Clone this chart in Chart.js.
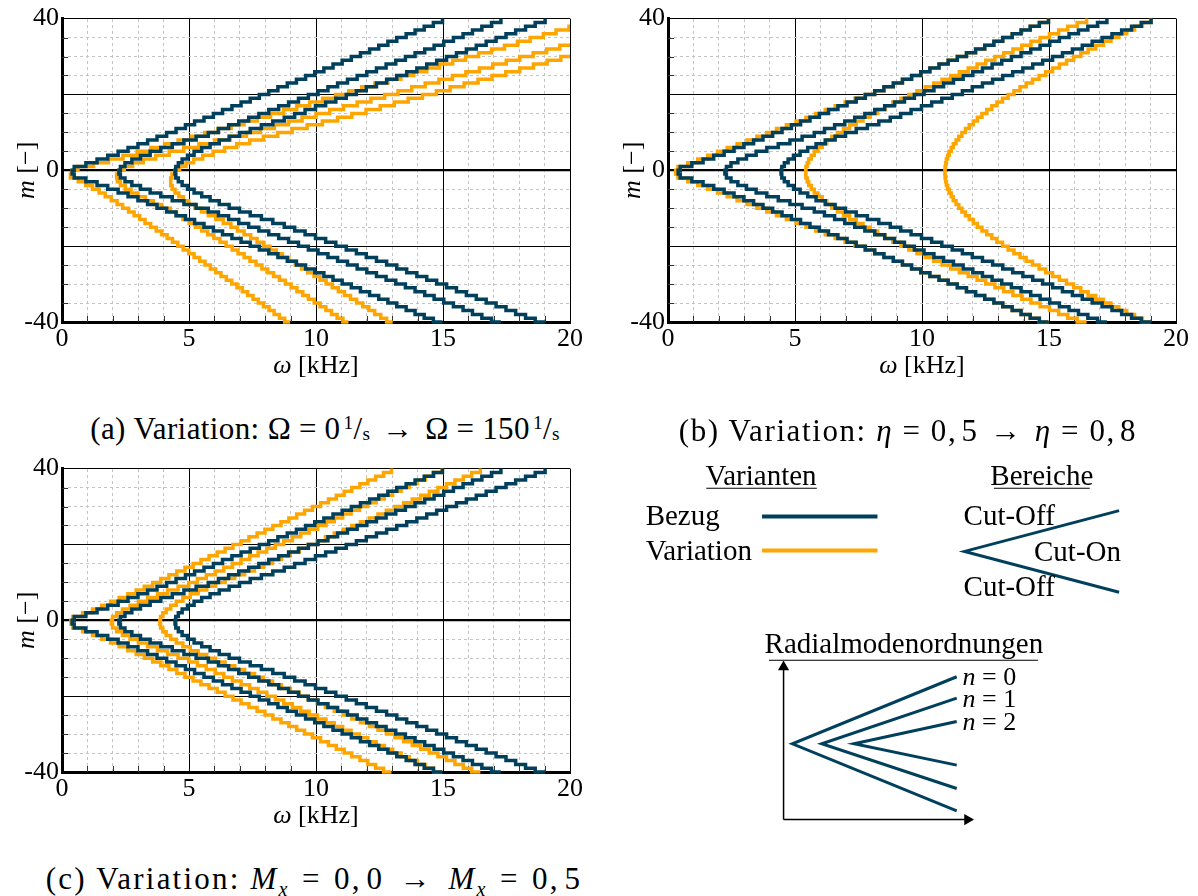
<!DOCTYPE html>
<html>
<head>
<meta charset="utf-8">
<script src="https://cdn.jsdelivr.net/npm/chart.js@4.4.1/dist/chart.umd.min.js"></script>
<style>
  body { margin: 0; background: #fff; }
  #page { position: relative; width: 1198px; height: 896px; overflow: hidden;
          font-family: 'Liberation Serif', 'DejaVu Serif', serif; color: #000; }
  canvas { position: absolute; }
  .cap { position: absolute; font-size: 31px; line-height: 30px; white-space: nowrap;
         letter-spacing: 1.6px; transform: translateX(-50%); }
  .cap .op { margin: 0 0.3em; }
  .cap .ar { margin: 0 0.38em; }
  .cap sup, .cap sub { line-height: 0; }
  #capA { letter-spacing: 0.4px; }
  #capA .op { margin: 0 0.25em; }
  #capC { letter-spacing: 2.2px; }
  #capC .op { margin: 0 0.4em; }
  #capC .ar { margin: 0 0.5em; }
  .nf sup { font-size: 62%; vertical-align: 0.5em; }
  .nf sub { font-size: 62%; vertical-align: -0.05em; }
</style>
</head>
<body>
<div id="page">
  <canvas id="chartA" width="600" height="400" style="left:0;top:0"></canvas>
  <canvas id="chartB" width="598" height="400" style="left:600px;top:0"></canvas>
  <canvas id="chartC" width="600" height="400" style="left:0;top:450px"></canvas>
  <canvas id="legendPanel" width="598" height="456" style="left:600px;top:440px"></canvas>

  <div class="cap" id="capA" style="left:325px;top:414px">(a) Variation: Ω<span class="op">=</span>0<span class="nf">&#8202;<sup>1</sup>/<sub>s</sub></span><span class="ar">→</span>Ω<span class="op">=</span>150<span class="nf">&#8202;<sup>1</sup>/<sub>s</sub></span></div>
  <div class="cap" id="capB" style="left:908px;top:416px">(b) Variation: <i>η</i><span class="op">=</span>0,&#8202;5<span class="ar">→</span><i>η</i><span class="op">=</span>0,&#8202;8</div>
  <div class="cap" id="capC" style="left:314px;top:864px">(c) Variation: <i>M<sub style="font-size:65%">x</sub></i><span class="op">=</span>0,&#8202;0<span class="ar">→</span><i>M<sub style="font-size:65%">x</sub></i><span class="op">=</span>0,&#8202;5</div>
</div>

<script>
// cut-on frequency omega [kHz], index = |m| (0..40)
// reference case (Bezug), identical in all three panels
const bezugN0 = [0.40, 0.48, 0.94, 1.38, 1.80, 2.21, 2.60, 2.99, 3.37, 3.74, 4.12, 4.49, 4.86, 5.22, 5.59, 5.96, 6.32, 6.69, 7.05, 7.41, 7.77, 8.14, 8.50, 8.87, 9.23, 9.59, 9.95, 10.31, 10.67, 11.03, 11.39, 11.75, 12.11, 12.47, 12.83, 13.18, 13.55, 13.90, 14.26, 14.62, 14.98];
const bezugN1 = [2.24, 2.30, 2.48, 2.75, 3.09, 3.47, 3.89, 4.34, 4.80, 5.28, 5.76, 6.16, 6.56, 6.96, 7.35, 7.75, 8.14, 8.53, 8.92, 9.31, 9.70, 10.08, 10.47, 10.85, 11.24, 11.62, 12.00, 12.38, 12.76, 13.14, 13.52, 13.90, 14.28, 14.65, 15.03, 15.41, 15.79, 16.16, 16.53, 16.91, 17.28];
const bezugN2 = [4.45, 4.48, 4.58, 4.73, 4.94, 5.20, 5.50, 5.83, 6.19, 6.58, 6.99, 7.41, 7.85, 8.30, 8.75, 9.16, 9.57, 9.98, 10.38, 10.78, 11.19, 11.59, 11.98, 12.38, 12.78, 13.18, 13.57, 13.97, 14.36, 14.75, 15.14, 15.53, 15.92, 16.31, 16.70, 17.09, 17.48, 17.86, 18.25, 18.63, 19.02];

// (a) swirl 150 1/s, not symmetric: Pos = m 0..+40, Neg = m 0..-40
const drallN0Pos = [0.40, 0.63, 1.24, 1.83, 2.40, 2.96, 3.50, 4.04, 4.57, 5.09, 5.62, 6.14, 6.66, 7.17, 7.69, 8.21, 8.72, 9.24, 9.75, 10.26, 10.77, 11.29, 11.80, 12.32, 12.83, 13.34, 13.85, 14.36, 14.87, 15.38, 15.89, 16.40, 16.91, 17.42, 17.93, 18.43, 18.95, 19.45, 19.96, 20.47, 20.98];
const drallN0Neg = [0.40, 0.33, 0.64, 0.93, 1.20, 1.46, 1.70, 1.94, 2.17, 2.39, 2.62, 2.84, 3.06, 3.27, 3.49, 3.71, 3.92, 4.14, 4.35, 4.56, 4.77, 4.99, 5.20, 5.42, 5.63, 5.84, 6.05, 6.26, 6.47, 6.68, 6.89, 7.10, 7.31, 7.52, 7.73, 7.93, 8.15, 8.35, 8.56, 8.77, 8.98];
const drallN1Pos = [2.24, 2.45, 2.78, 3.20, 3.69, 4.22, 4.79, 5.39, 6.00, 6.63, 7.26, 7.81, 8.36, 8.91, 9.45, 10.00, 10.54, 11.08, 11.62, 12.16, 12.70, 13.23, 13.77, 14.30, 14.84, 15.37, 15.90, 16.43, 16.96, 17.49, 18.02, 18.55, 19.08, 19.60, 20.13, 20.66];
const drallN1Neg = [2.24, 2.15, 2.18, 2.30, 2.49, 2.72, 2.99, 3.29, 3.60, 3.93, 4.26, 4.51, 4.76, 5.01, 5.25, 5.50, 5.74, 5.98, 6.22, 6.46, 6.70, 6.93, 7.17, 7.40, 7.64, 7.87, 8.10, 8.33, 8.56, 8.79, 9.02, 9.25, 9.48, 9.70, 9.93, 10.16, 10.39, 10.61, 10.83, 11.06, 11.28];
const drallN2Pos = [4.45, 4.63, 4.88, 5.18, 5.54, 5.95, 6.40, 6.88, 7.39, 7.93, 8.49, 9.06, 9.65, 10.25, 10.85, 11.41, 11.97, 12.53, 13.08, 13.63, 14.19, 14.74, 15.28, 15.83, 16.38, 16.93, 17.47, 18.02, 18.56, 19.10, 19.64, 20.18, 20.72];
const drallN2Neg = [4.45, 4.33, 4.28, 4.28, 4.34, 4.45, 4.60, 4.78, 4.99, 5.23, 5.49, 5.76, 6.05, 6.35, 6.65, 6.91, 7.17, 7.43, 7.68, 7.93, 8.19, 8.44, 8.68, 8.93, 9.18, 9.43, 9.67, 9.92, 10.16, 10.40, 10.64, 10.88, 11.12, 11.36, 11.60, 11.84, 12.08, 12.31, 12.55, 12.78, 13.02];

// (b) hub ratio 0.8, symmetric in m
const nabeN0 = [0.30, 0.39, 0.78, 1.17, 1.56, 1.95, 2.33, 2.72, 3.11, 3.50, 3.89, 4.27, 4.66, 5.04, 5.43, 5.81, 6.19, 6.58, 6.97, 7.36, 7.75, 8.13, 8.50, 8.87, 9.23, 9.59, 9.95, 10.31, 10.67, 11.03, 11.39, 11.75, 12.11, 12.47, 12.83, 13.18, 13.55, 13.90, 14.26, 14.62, 14.98];
const nabeN1 = [5.42, 5.43, 5.48, 5.54, 5.64, 5.76, 5.90, 6.07, 6.25, 6.45, 6.67, 6.91, 7.15, 7.41, 7.68, 7.96, 8.25, 8.55, 8.85, 9.17, 9.48, 9.80, 10.13, 10.46, 10.79, 11.13, 11.47, 11.82, 12.17, 12.51, 12.87, 13.22, 13.58, 13.93, 14.29, 14.65, 15.02, 15.38, 15.74, 16.11, 16.48];
const nabeN2 = [10.90, 10.91, 10.93, 10.96, 11.01, 11.07, 11.15, 11.23, 11.34, 11.45, 11.57, 11.71, 11.86, 12.02, 12.18, 12.36, 12.55, 12.75, 12.95, 13.17, 13.39, 13.62, 13.86, 14.10, 14.35, 14.61, 14.87, 15.14, 15.41, 15.69, 15.97, 16.25, 16.54, 16.84, 17.14, 17.44, 17.75, 18.06, 18.37, 18.68, 19.00];

// (c) axial Mach 0.5, symmetric in m
const machN0 = [0.35, 0.42, 0.81, 1.20, 1.56, 1.91, 2.25, 2.59, 2.92, 3.24, 3.57, 3.89, 4.21, 4.52, 4.84, 5.16, 5.47, 5.79, 6.11, 6.42, 6.73, 7.05, 7.36, 7.68, 7.99, 8.30, 8.62, 8.93, 9.24, 9.55, 9.86, 10.18, 10.49, 10.80, 11.11, 11.41, 11.73, 12.04, 12.35, 12.66, 12.97];
const machN1 = [1.94, 1.99, 2.15, 2.38, 2.68, 3.01, 3.37, 3.76, 4.16, 4.57, 4.99, 5.33, 5.68, 6.03, 6.37, 6.71, 7.05, 7.39, 7.72, 8.06, 8.40, 8.73, 9.07, 9.40, 9.73, 10.06, 10.39, 10.72, 11.05, 11.38, 11.71, 12.04, 12.37, 12.69, 13.02, 13.35, 13.67, 13.99, 14.31, 14.64, 14.96];
const machN2 = [3.85, 3.88, 3.97, 4.10, 4.28, 4.50, 4.76, 5.05, 5.36, 5.70, 6.05, 6.42, 6.80, 7.19, 7.58, 7.93, 8.29, 8.64, 8.99, 9.34, 9.69, 10.04, 10.37, 10.72, 11.07, 11.41, 11.75, 12.10, 12.44, 12.77, 13.11, 13.45, 13.79, 14.12, 14.46, 14.80, 15.14, 15.47, 15.80, 16.13, 16.47];

// axis ticks
const xTicks = [0, 5, 10, 15, 20];
const yTickLabels = [40, 0, -40];
const xMinorTicks = [1, 2, 3, 4, 6, 7, 8, 9, 11, 12, 13, 14, 16, 17, 18, 19];
const yMinorTicks = [-35, -30, -25, -15, -10, -5, 5, 10, 15, 25, 30, 35];

const BLUE = "#00405c";
const ORANGE = "#ffa500";
const FONT = "'Liberation Serif', 'DejaVu Serif', serif";

Chart.defaults.font.family = FONT;
Chart.defaults.color = "#000";

// points from m = -40 up to +40 (neg holds |m| for m <= 0)
function stairPoints(neg, pos) {
  const pts = [];
  for (let m = -(neg.length - 1); m < 0; m++) pts.push({ x: neg[-m], y: m });
  for (let m = 0; m < pos.length; m++) pts.push({ x: pos[m], y: m });
  return pts;
}

function curve(neg, pos, color) {
  return {
    data: stairPoints(neg, pos),
    borderColor: color,
    borderWidth: 3.5,
    showLine: true,
    stepped: true,
    pointRadius: 0,
    fill: false,
    clip: { left: 0, right: 0, top: 2, bottom: 2 },
  };
}

// draws a string made of italic / upright runs
function drawRuns(ctx, runs, size, x, y, align) {
  const fontFor = (it) => `${it ? "italic " : ""}${size}px ${FONT}`;
  let total = 0;
  runs.forEach(([s, it]) => { ctx.font = fontFor(it); total += ctx.measureText(s).width; });
  if (align === "center") x -= total / 2;
  ctx.textAlign = "left";
  ctx.textBaseline = "alphabetic";
  runs.forEach(([s, it]) => {
    ctx.font = fontFor(it);
    ctx.fillText(s, x, y);
    x += ctx.measureText(s).width;
  });
}

// axis titles with italic symbols, plus short inner minor tick marks
const axisTitlePlugin = {
  id: "axisTitles",
  beforeDatasetsDraw(chart) {
    const { ctx, chartArea, scales } = chart;
    ctx.save();
    ctx.strokeStyle = "#333";
    ctx.lineWidth = 1;
    ctx.beginPath();
    xMinorTicks.forEach((v) => {
      const px = Math.round(scales.x.getPixelForValue(v)) + 0.5;
      ctx.moveTo(px, chartArea.bottom);
      ctx.lineTo(px, chartArea.bottom - 6);
    });
    yMinorTicks.forEach((v) => {
      const py = Math.round(scales.y.getPixelForValue(v)) + 0.5;
      ctx.moveTo(chartArea.left, py);
      ctx.lineTo(chartArea.left + 6, py);
    });
    ctx.stroke();
    ctx.restore();
  },
  afterDraw(chart) {
    const { ctx, chartArea } = chart;
    ctx.save();
    ctx.fillStyle = "#000";
    drawRuns(ctx, [["ω", true], [" [kHz]", false]], 26,
             (chartArea.left + chartArea.right) / 2, chartArea.bottom + 51, "center");
    ctx.translate(chartArea.left - 28, (chartArea.top + chartArea.bottom) / 2);
    ctx.rotate(-Math.PI / 2);
    drawRuns(ctx, [["m", true], [" [−]", false]], 26, 0, 0, "center");
    ctx.restore();
  },
};

function cutOnChart(id, variation, yWidth, rightPad) {
  const datasets = [
    curve(bezugN0, bezugN0, BLUE),
    curve(bezugN1, bezugN1, BLUE),
    curve(bezugN2, bezugN2, BLUE),
    ...variation.map((v) => curve(v[0], v[1], ORANGE)),
  ];
  const tickFont = { family: FONT, size: 26 };
  return new Chart(document.getElementById(id), {
    type: "scatter",
    data: { datasets },
    options: {
      responsive: false,
      animation: false,
      devicePixelRatio: 1,
      layout: { padding: { left: 0, right: rightPad, top: 18, bottom: 0 } },
      plugins: { legend: { display: false }, tooltip: { enabled: false } },
      scales: {
        x: {
          type: "linear", position: "bottom", min: 0, max: 20,
          afterBuildTicks: (s) => { s.ticks = xTicks.map((v) => ({ value: v })); },
          ticks: { color: "#000", font: tickFont, padding: 2 },
          grid: { color: "#000", lineWidth: 1, drawTicks: false },
          border: { color: "#000", width: 3 },
          afterFit: (s) => { s.height = 78; },
        },
        xMinor: {
          type: "linear", position: "top", min: 0, max: 20,
          ticks: { display: false, stepSize: 1 },
          grid: { color: (c) => (c.tick && c.tick.value % 5 === 0 ? "rgba(0,0,0,0)" : "#c4c4c4"),
                  lineWidth: 1, drawTicks: false },
          border: { display: false, dash: [3, 3] },
          afterFit: (s) => { s.height = 0; },
        },
        y: {
          type: "linear", position: "left", min: -40, max: 40,
          ticks: { stepSize: 20, color: "#000", font: tickFont, padding: 3,
                   callback: (v) => (yTickLabels.includes(v) ? String(v) : "") },
          grid: { color: "#000", lineWidth: (c) => (c.tick && c.tick.value === 0 ? 2.2 : 1), drawTicks: false },
          border: { color: "#000", width: 3 },
          afterFit: (s) => { s.width = yWidth; },
        },
        yMinor: {
          type: "linear", position: "right", min: -40, max: 40,
          ticks: { display: false, stepSize: 5 },
          grid: { color: (c) => (c.tick && c.tick.value % 20 === 0 ? "rgba(0,0,0,0)" : "#c4c4c4"),
                  lineWidth: 1, drawTicks: false },
          border: { display: false, dash: [3, 3] },
          afterFit: (s) => { s.width = 0; },
        },
      },
    },
    plugins: [axisTitlePlugin],
  });
}

cutOnChart("chartA", [[drallN0Neg, drallN0Pos], [drallN1Neg, drallN1Pos], [drallN2Neg, drallN2Pos]], 62, 30);
cutOnChart("chartB", [[nabeN0, nabeN0], [nabeN1, nabeN1], [nabeN2, nabeN2]], 68, 22);
cutOnChart("chartC", [[machN0, machN0], [machN1, machN1], [machN2, machN2]], 62, 30);

// ---- legend panel (schematic), coordinates relative to its canvas ----
const legendShapes = [
  { pts: [[159, 72], [277, 72]], color: BLUE, w: 4 },
  { pts: [[159, 107], [277, 107]], color: ORANGE, w: 4 },
  { pts: [[524, 66], [366, 108], [524, 150]], color: BLUE, w: 3 },
  { pts: [[358, 237], [190, 306], [358, 375]], color: BLUE, w: 3 },
  { pts: [[358, 259], [220, 306], [358, 352]], color: BLUE, w: 3 },
  { pts: [[358, 283], [253, 306], [358, 328]], color: BLUE, w: 3 },
  { pts: [[102, 43], [215, 43]], color: "#000", w: 1.2 },
  { pts: [[396, 43], [494, 43]], color: "#000", w: 1.2 },
  { pts: [[166, 220], [441, 220]], color: "#000", w: 1.2 },
  { pts: [[181, 384], [181, 227]], color: "#000", w: 1.5, arrow: 0 },
  { pts: [[181, 384], [369, 384]], color: "#000", w: 1.5, arrow: 90 },
];

const legendTexts = [
  { runs: [["Varianten", false]], x: 158, y: 40, align: "center", size: 29 },
  { runs: [["Bezug", false]], x: 40, y: 81, align: "left", size: 29 },
  { runs: [["Variation", false]], x: 40, y: 117, align: "left", size: 29 },
  { runs: [["Bereiche", false]], x: 445, y: 40, align: "center", size: 29 },
  { runs: [["Cut-Off", false]], x: 365, y: 81, align: "left", size: 29 },
  { runs: [["Cut-On", false]], x: 437, y: 118, align: "left", size: 29 },
  { runs: [["Cut-Off", false]], x: 365, y: 154, align: "left", size: 29 },
  { runs: [["Radialmodenordnungen", false]], x: 304, y: 213, align: "center", size: 29 },
  { runs: [["n", true], [" = 0", false]], x: 364, y: 245, align: "left", size: 26 },
  { runs: [["n", true], [" = 1", false]], x: 364, y: 268, align: "left", size: 26 },
  { runs: [["n", true], [" = 2", false]], x: 364, y: 292, align: "left", size: 26 },
];

const legendTextPlugin = {
  id: "legendText",
  afterDatasetsDraw(chart) {
    const { ctx, scales } = chart;
    ctx.save();
    ctx.fillStyle = "#000";
    legendTexts.forEach((t) => {
      drawRuns(ctx, t.runs, t.size, scales.x.getPixelForValue(t.x), scales.y.getPixelForValue(t.y), t.align);
    });
    ctx.restore();
  },
};

new Chart(document.getElementById("legendPanel"), {
  type: "scatter",
  data: {
    datasets: legendShapes.map((s) => ({
      data: s.pts.map(([x, y]) => ({ x, y })),
      showLine: true,
      borderColor: s.color,
      backgroundColor: s.color,
      borderWidth: s.w,
      pointRadius: s.pts.map((p, i) => (s.arrow !== undefined && i === s.pts.length - 1 ? 5 : 0)),
      pointStyle: "triangle",
      rotation: s.arrow || 0,
      borderCapStyle: "butt",
      clip: false,
    })),
  },
  options: {
    responsive: false,
    animation: false,
    devicePixelRatio: 1,
    layout: { padding: 0 },
    plugins: { legend: { display: false }, tooltip: { enabled: false } },
    scales: {
      x: { type: "linear", min: 0, max: 598, display: false },
      y: { type: "linear", min: 0, max: 456, reverse: true, display: false },
    },
  },
  plugins: [legendTextPlugin],
});
</script>
</body>
</html>
